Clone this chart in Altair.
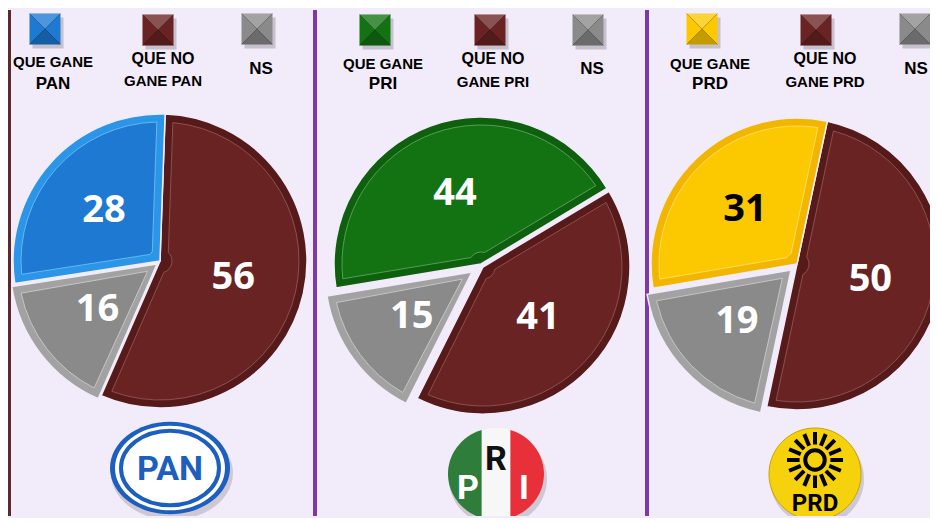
import math
import altair as alt
import pandas as pd

# ---------------- data ----------------
SLICE_KEYS = ["no", "ns", "gane"]          # clockwise order of slices
PARTIES = ["PAN", "PRI", "PRD"]
PAN_VALUES = [56, 16, 28]
PRI_VALUES = [41, 15, 44]
PRD_VALUES = [50, 19, 31]
LEGEND_GANE = ["QUE GANE"]
LEGEND_NO = ["QUE NO", "GANE"]
LEGEND_NS = ["NS"]

# ---------------- styles ----------------
BG = "#f2ecfa"
PURPLE = "#7b3aa8"
BROWN, BROWN_RIM, BROWN_HI = "#6a2323", "#561a1a", "#9a5a5a"
GRAY, GRAY_RIM, GRAY_HI = "#8a8a8a", "#a2a2a2", "#d0d0d0"
PARTY_STYLE = {
    "PAN": dict(face="#1d79d2", rim="#2b95e8", hi="#7cc0f5", label="white"),
    "PRI": dict(face="#137313", rim="#0e5f0e", hi="#5fae5f", label="white"),
    "PRD": dict(face="#fcc800", rim="#f2b600", hi="#ffe27a", label="black"),
}
NUM_FONT = "Open Sans"
LEG_FONT = "Liberation Sans, Arial, sans-serif"
NARROW = "Roboto, Liberation Sans, sans-serif"
H = 506


def ellipse_path(ry):
    return f"M-1,0 A1,{ry} 0 1,1 1,0 A1,{ry} 0 1,1 -1,0 Z"


def pt(shape, x, y, size, **kw):
    return alt.Chart(pd.DataFrame({"a": [0]})).mark_point(shape=shape, size=size, clip=True, **kw).encode(
        x=alt.value(x), y=alt.value(y))


def txt(s, x, y, size, color="black", font=LEG_FONT, **kw):
    return alt.Chart(pd.DataFrame({"a": [0]})).mark_text(
        text=s, fontSize=size, font=font, fontWeight="bold", color=color, **kw
    ).encode(x=alt.value(x), y=alt.value(y))


def legend_square(x, y, color):
    s = 31 * 31
    sq = "M-1,-1L1,-1L1,1L-1,1Z"
    return [
        pt(sq, x + 3, y + 4, s, filled=True, fill="#000000", opacity=0.18, strokeWidth=0),
        pt(sq, x, y, s, filled=True, fill=color, opacity=1, strokeWidth=0),
        pt("M-1,-1L1,-1L0,0Z", x, y, s, filled=True, fill="white", opacity=0.22, strokeWidth=0),
        pt("M-1,1L1,1L0,0Z", x, y, s, filled=True, fill="black", opacity=0.22, strokeWidth=0),
        pt("M-1,-1L1,1M1,-1L-1,1", x, y, s, filled=False, stroke="black", strokeOpacity=0.25,
           strokeWidth=1, opacity=1),
    ]


def pie_layers(values, party, cx, cy, R, off, shifts):
    st = PARTY_STYLE[party]
    df = pd.DataFrame({"k": SLICE_KEYS, "v": values, "o": list(range(len(SLICE_KEYS)))})
    theta = alt.Theta("v:Q", stack=True, scale=alt.Scale(range=[off, off + 2 * math.pi]))
    base = alt.Chart(df).encode(theta=theta, order=alt.Order("o:Q"))
    rims = [BROWN_RIM, GRAY_RIM, st["rim"]]
    faces = [BROWN, GRAY, st["face"]]
    his = [BROWN_HI, GRAY_HI, st["hi"]]
    labs = ["white", "white", st["label"]]
    layers = []
    for k in SLICE_KEYS:
        dx, dy = shifts.get(k, (0, 0))
        op = alt.condition(alt.datum.k == k, alt.value(1), alt.value(0))
        pos = dict(x=alt.value(cx + dx), y=alt.value(cy + dy))
        layers.append(base.mark_arc(outerRadius=R, stroke=BG, strokeWidth=1.5, clip=True).encode(
            color=alt.Color("k:N", scale=alt.Scale(domain=SLICE_KEYS, range=rims), legend=None),
            opacity=op, **pos))
        layers.append(base.mark_arc(outerRadius=R - 8, innerRadius=12, padAngle=0.115,
                                    strokeWidth=0.8, clip=True).encode(
            color=alt.Color("k:N", scale=alt.Scale(domain=SLICE_KEYS, range=faces), legend=None),
            stroke=alt.Stroke("k:N", scale=alt.Scale(domain=SLICE_KEYS, range=his), legend=None),
            opacity=op, **pos))
        layers.append(base.mark_text(radius=75, fontSize=38, font=NUM_FONT, fontWeight="bold").encode(
            text="v:Q",
            color=alt.Color("k:N", scale=alt.Scale(domain=SLICE_KEYS, range=labs), legend=None),
            opacity=op, **pos))
    return layers


def legend_layers(party, sq, lab):
    st = PARTY_STYLE[party]
    (gx, gy), (nx, ny), (sx, sy) = sq
    (glx, gly1, gly2), (nlx, nly1, nly2), (slx, sly) = lab
    out = []
    out += legend_square(gx, gy, st["face"])
    out += legend_square(nx, ny, BROWN)
    out += legend_square(sx, sy, GRAY)
    out.append(txt(LEGEND_GANE[0], glx, gly1, 15))
    out.append(txt(party, glx, gly2, 17))
    out.append(txt(LEGEND_NO[0], nlx, nly1, 16))
    out.append(txt(LEGEND_NO[1] + " " + party, nlx, nly2, 15))
    out.append(txt(LEGEND_NS[0], slx, sly, 17))
    return out


def separator():
    return alt.Chart(pd.DataFrame({"a": [0]})).mark_rule(color=PURPLE, strokeWidth=4).encode(
        x=alt.value(2), y=alt.value(0), y2=alt.value(H))


# ---------------- logos ----------------
def pan_logo(x, y):
    return [
        pt(ellipse_path(0.77), x + 2, y + 5, 122 ** 2, filled=True, fill="#000000", opacity=0.15, strokeWidth=0),
        pt(ellipse_path(0.77), x, y, 120 ** 2, filled=True, fill="#1d5fbf", opacity=1, strokeWidth=0),
        pt(ellipse_path(0.77), x, y, 110 ** 2, filled=True, fill="white", opacity=1, strokeWidth=0),
        pt(ellipse_path(0.76), x, y, 98 ** 2, filled=True, fill="white", stroke="#1d5fbf",
           strokeWidth=4, opacity=1),
        txt("PAN", x, y + 2, 34, color="#1d5fbf", font=NARROW, baseline="middle"),
    ]


def pri_logo(x, y):
    ry, c = 0.96, 0.3
    yc = ry * math.sqrt(1 - c * c)
    left = f"M{-c},{-yc:.3f} A1,{ry} 0 0,0 {-c},{yc:.3f} Z"
    right = f"M{c},{-yc:.3f} A1,{ry} 0 0,1 {c},{yc:.3f} Z"
    w = 96 ** 2
    return [
        pt(ellipse_path(ry), x + 2, y + 5, 98 ** 2, filled=True, fill="#000000", opacity=0.15, strokeWidth=0),
        pt(ellipse_path(ry), x, y, w, filled=True, fill="#f7f7f7", opacity=1, strokeWidth=0),
        pt(left, x, y, w, filled=True, fill="#2e7d3a", opacity=1, strokeWidth=0),
        pt(right, x, y, w, filled=True, fill="#e8303a", opacity=1, strokeWidth=0),
        txt("P", x - 28, y + 15, 34, color="white", font=NARROW, baseline="middle"),
        txt("R", x, y - 14, 34, color="#111111", font=NARROW, baseline="middle"),
        txt("I", x + 28, y + 15, 34, color="white", font=NARROW, baseline="middle"),
    ]


def prd_logo(x, y):
    rays = []
    n = 16
    for i in range(n):
        a = 2 * math.pi * i / n
        rays.append(f"M{0.55 * math.sin(a):.3f},{-0.55 * math.cos(a):.3f}L{math.sin(a):.3f},{-math.cos(a):.3f}")
    rays_path = "".join(rays)
    return [
        pt(ellipse_path(1.0), x + 2, y + 5, 94 ** 2, filled=True, fill="#000000", opacity=0.15, strokeWidth=0),
        pt(ellipse_path(1.0), x, y, 92 ** 2, filled=True, fill="#f6d20c", stroke="#c9a400",
           strokeWidth=1, opacity=1),
        pt(rays_path, x, y - 14, 56 ** 2, filled=False, stroke="black", strokeWidth=4, opacity=1),
        pt("circle", x, y - 14, 380, filled=False, stroke="black", strokeWidth=4, opacity=1),
        txt("PRD", x, y + 30, 24, color="black", font=NARROW, baseline="middle"),
    ]


# ---------------- panels ----------------
p1_layers = [
    alt.Chart(pd.DataFrame({"a": [0]})).mark_rule(color="#5a2a2a", strokeWidth=3).encode(
        x=alt.value(1.5), y=alt.value(0), y2=alt.value(H))
]
p1_layers += legend_layers("PAN", [(37, 19), (150, 20), (249, 19)],
                           [(45, 52, 74), (155, 49, 71), (253, 59)])
p1_layers += pie_layers(PAN_VALUES, "PAN", 152, 251, 147, math.radians(2),
                        {"ns": (-3, 3)})
p1_layers += pan_logo(162, 458)
p1 = alt.layer(*p1_layers).resolve_scale(color="independent", stroke="independent").properties(
    width=305, height=H)

p2_layers = [separator()]
p2_layers += legend_layers("PRI", [(62, 20), (177, 20), (275, 20)],
                           [(70, 54, 74), (180, 49, 72), (279, 59)])
p2_layers += pie_layers(PRI_VALUES, "PRI", 168, 254, 147, math.radians(59),
                        {"ns": (-9, 8), "no": (2, 3)})
p2_layers += pri_logo(183, 464)
p2 = alt.layer(*p2_layers).resolve_scale(color="independent", stroke="independent").properties(
    width=332, height=H)

p3_layers = [separator()]
p3_layers += legend_layers("PRD", [(57, 19), (171, 20), (270, 19)],
                           [(65, 54, 74), (180, 49, 72), (271, 59)])
p3_layers += pie_layers(PRD_VALUES, "PRD", 152, 254, 146, math.radians(12),
                        {"ns": (-6, 6)})
p3_layers += prd_logo(170, 464)
p3 = alt.layer(*p3_layers).resolve_scale(color="independent", stroke="independent").properties(
    width=285, height=H)

chart = alt.hconcat(p1, p2, p3, spacing=0, bounds="flush").properties(
    background=BG, padding=0
).configure_view(stroke=None)

chart.save("out.html", embed_options={"renderer": "svg", "actions": False})
